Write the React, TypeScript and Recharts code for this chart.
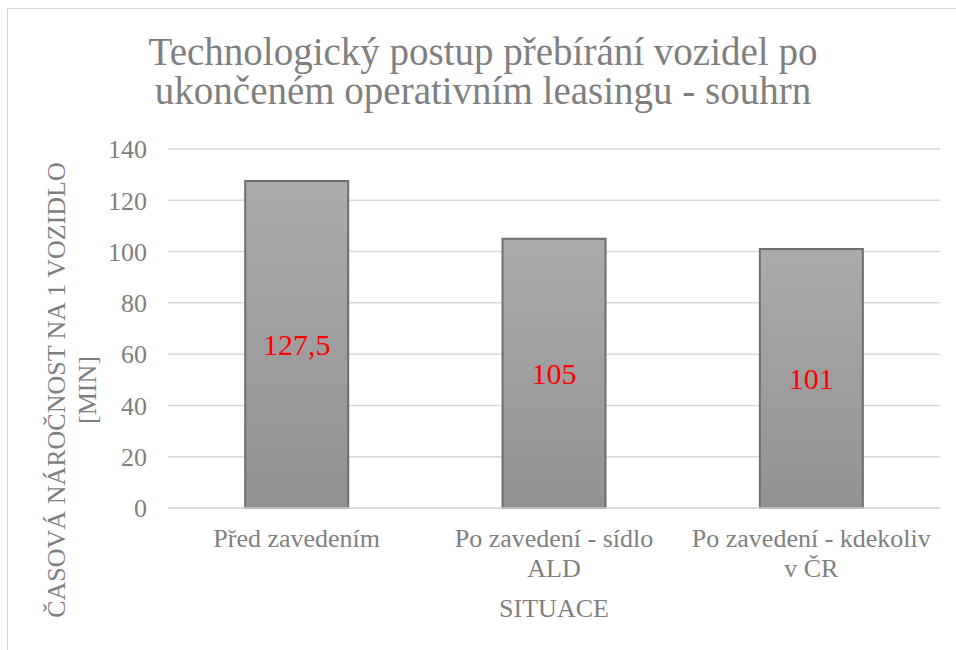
import { BarChart, Bar, XAxis, YAxis, CartesianGrid, LabelList } from "recharts";

const situations = ["Před zavedením", "Po zavedení - sídlo ALD", "Po zavedení - kdekoliv v ČR"];
const minutesPerVehicle = [127.5, 105, 101];
const yTicks = [0, 20, 40, 60, 80, 100, 120, 140];

const title = ["Technologický postup přebírání vozidel po", "ukončeném operativním leasingu - souhrn"];
const xTitle = "SITUACE";
const yTitle = ["ČASOVÁ NÁROČNOST NA 1 VOZIDLO", "[MIN]"];

const FONT = '"Liberation Serif", "Times New Roman", serif';
const GRAY = "#7f7f7f";

const data = situations.map((name, i) => ({ name, value: minutesPerVehicle[i] }));

// wrap words to a max width, measured with canvas
function wrap(text: string, maxWidth: number, font: string) {
  const ctx = document.createElement("canvas").getContext("2d")!;
  ctx.font = font;
  const lines: string[] = [];
  let cur = "";
  for (const w of text.split(" ")) {
    const next = cur ? cur + " " + w : w;
    if (cur && ctx.measureText(next).width > maxWidth) {
      lines.push(cur);
      cur = w;
    } else {
      cur = next;
    }
  }
  if (cur) lines.push(cur);
  return lines;
}

function CategoryTick(props: any) {
  const { x, y, payload } = props;
  const lines = wrap(String(payload.value), 250, `26px ${FONT}`);
  return (
    <text x={x} y={y + 39} textAnchor="middle" fontSize={26} fontFamily={FONT} fill={GRAY}>
      {lines.map((l, i) => (
        <tspan key={i} x={x} dy={i === 0 ? 0 : 30}>
          {l}
        </tspan>
      ))}
    </text>
  );
}

function YTitle() {
  const cx = 72;
  const cy = 390;
  return (
    <text
      transform={`rotate(-90, ${cx}, ${cy})`}
      x={cx}
      y={cy}
      textAnchor="middle"
      fontSize={26}
      fontFamily={FONT}
      fill={GRAY}
    >
      <tspan x={cx} dy={-7}>{yTitle[0]}</tspan>
      <tspan x={cx} dy={31}>{yTitle[1]}</tspan>
    </text>
  );
}

function XTitle(props: any) {
  const { viewBox } = props;
  return (
    <text
      x={viewBox.x + viewBox.width / 2}
      y={617}
      textAnchor="middle"
      fontSize={26}
      fontFamily={FONT}
      fill={GRAY}
    >
      {xTitle}
    </text>
  );
}

export default function App() {
  return (
    <div style={{ position: "absolute", left: 0, top: 0, width: 956, height: 650, background: "#fff", overflow: "hidden" }}>
      <div
        style={{
          position: "absolute",
          left: 7,
          top: 8,
          width: 960,
          height: 660,
          border: "1.5px solid #d9d9d9",
          boxSizing: "border-box",
        }}
      />
      <div
        style={{
          position: "absolute",
          left: 7,
          top: 32,
          width: 952,
          textAlign: "center",
          fontFamily: FONT,
          fontSize: 39,
          lineHeight: "39px",
          color: GRAY,
        }}
      >
        {title.map((t) => (
          <div key={t}>{t}</div>
        ))}
      </div>
      <div style={{ position: "absolute", left: 0, top: 0 }}>
        <BarChart
          width={956}
          height={650}
          data={data}
          margin={{ top: 149, right: 16, bottom: 112, left: 108 }}
          barCategoryGap="30%"
        >
          <defs>
            <linearGradient id="barFill" x1="0" y1="0" x2="0" y2="1">
              <stop offset="0%" stopColor="#ababab" />
              <stop offset="100%" stopColor="#929292" />
            </linearGradient>
          </defs>
          <CartesianGrid vertical={false} stroke="#d9d9d9" strokeWidth={1.5} />
          <XAxis
            dataKey="name"
            height={30}
            axisLine={{ stroke: "#d9d9d9", strokeWidth: 1.5 }}
            tickLine={false}
            tickSize={0}
            tickMargin={0}
            tick={<CategoryTick />}
            interval={0}
            label={<XTitle />}
          />
          <YAxis
            width={60}
            domain={[0, 140]}
            ticks={yTicks}
            axisLine={false}
            tickLine={false}
            tickSize={0}
            tickMargin={21}
            tick={{ fill: GRAY, fontSize: 26, fontFamily: FONT }}
            label={<YTitle />}
          />
          <Bar
            dataKey="value"
            fill="url(#barFill)"
            stroke="#6e6e6e"
            strokeWidth={2}
            isAnimationActive={false}
          >
            <LabelList
              dataKey="value"
              position="center"
              fill="#ff0000"
              fontSize={30}
              fontFamily={FONT}
              formatter={(v: any) => String(v).replace(".", ",")}
            />
          </Bar>
        </BarChart>
      </div>
    </div>
  );
}
